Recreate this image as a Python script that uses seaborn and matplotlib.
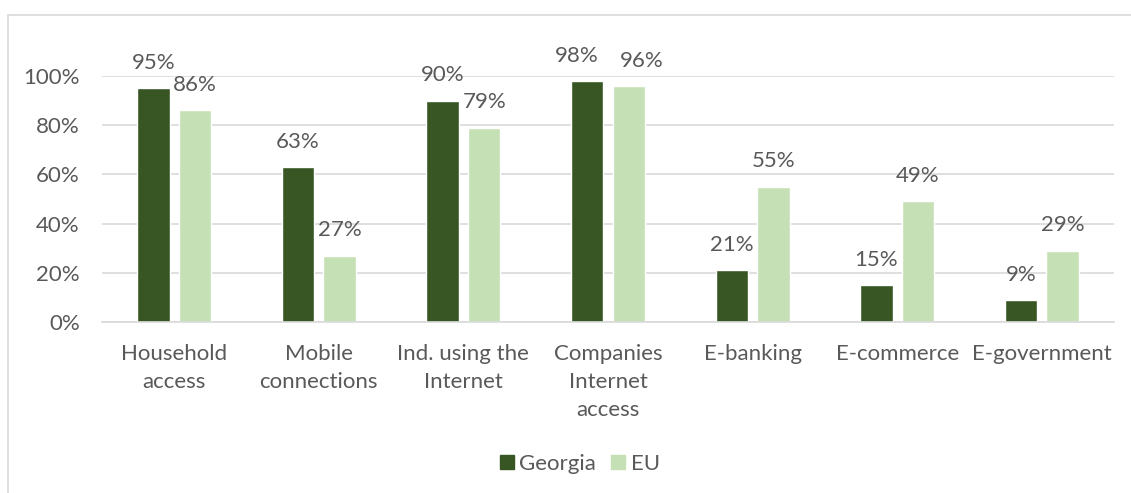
import matplotlib
matplotlib.use("Agg")
import matplotlib.pyplot as plt
import seaborn as sns
import pandas as pd
from matplotlib.lines import Line2D
from matplotlib.ticker import PercentFormatter

categories = ["Household\naccess", "Mobile\nconnections", "Ind. using the\nInternet",
              "Companies\nInternet\naccess", "E-banking", "E-commerce", "E-government"]
georgia = [95, 63, 90, 98, 21, 15, 9]
eu = [86, 27, 79, 96, 55, 49, 29]
series = ["Georgia", "EU"]
colors = ["#375623", "#C5E0B4"]

df = pd.DataFrame({
    "category": categories * 2,
    "value": georgia + eu,
    "series": ["Georgia"] * len(categories) + ["EU"] * len(categories),
})

sns.set_theme(style="white")
plt.rcParams["font.family"] = ["Lato", "DejaVu Sans"]
text_color = "#595959"
grid_color = "#D9D9D9"
fs = 16

fig = plt.figure(figsize=(11.31, 4.93), dpi=100)
ax = fig.add_axes([102 / 1131, 1 - 322 / 493, (1114 - 102) / 1131, (322 - 76) / 493])

sns.barplot(data=df, x="category", y="value", hue="series", hue_order=series,
            palette=colors, width=0.575, gap=0.22, ax=ax, legend=False, saturation=1)

ax.set_ylim(0, 100)
ax.set_xlim(-0.5, len(categories) - 0.5)
ax.set_yticks(range(0, 101, 20))
ax.yaxis.set_major_formatter(PercentFormatter(100, decimals=0))
ax.grid(axis="y", color=grid_color, linewidth=1.2)
ax.set_axisbelow(True)
for s in ["top", "right", "left"]:
    ax.spines[s].set_visible(False)
ax.spines["bottom"].set_color(grid_color)
ax.spines["bottom"].set_linewidth(1.2)
ax.set_xlabel("")
ax.set_ylabel("")
ax.tick_params(axis="both", length=0, labelsize=fs, labelcolor=text_color)
ax.tick_params(axis="x", pad=16)
ax.tick_params(axis="y", pad=16)
for t in ax.get_xticklabels():
    t.set_linespacing(1.5)

# Companies labels nudged apart as in the reference (px)
nudge = {(0, 3): -10, (1, 3): 13}
for si, cont in enumerate(ax.containers):
    labels = ax.bar_label(cont, fmt="%d%%", padding=11, fontsize=fs,
                          color=text_color, clip_on=False)
    for ci, lab in enumerate(labels):
        dx = nudge.get((si, ci), 0)
        if dx:
            x, y = lab.xyann
            lab.xyann = (x + dx * 72 / 100, y)

handles = [Line2D([0], [0], marker="s", linestyle="", markersize=10.5,
                  markerfacecolor=c, markeredgecolor=c) for c in colors]
fig.legend(handles, series, loc="center", bbox_to_anchor=(0.511, 1 - 464 / 493),
           ncol=2, frameon=False, fontsize=fs, labelcolor=text_color,
           handletextpad=0.05, columnspacing=0.5, handlelength=1.0)

fig.add_artist(Line2D([8 / 1131, 1.0], [1 - 15 / 493, 1 - 15 / 493],
                      transform=fig.transFigure, color=grid_color, linewidth=1.2))
fig.add_artist(Line2D([8 / 1131, 8 / 1131], [0, 1 - 15 / 493],
                      transform=fig.transFigure, color=grid_color, linewidth=1.2))

fig.savefig("out.png", dpi=100)
